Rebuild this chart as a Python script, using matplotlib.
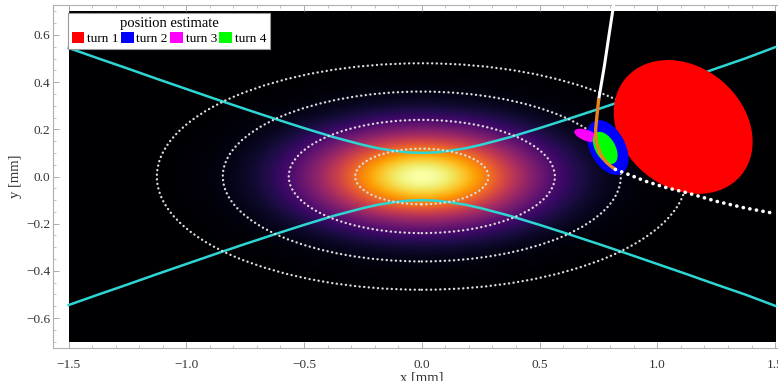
import numpy as np
import matplotlib.pyplot as plt
from matplotlib.patches import Ellipse, Patch
from matplotlib.ticker import MultipleLocator

plt.rcParams['font.family'] = ['Liberation Serif', 'DejaVu Serif']

# beam spot, 1-sigma widths in mm
sigma_x = 0.283
sigma_y = 0.12

# dotted sigma contours (semi-axes in mm)
contour_rx = [0.283, 0.565, 0.845, 1.125]
contour_ry = [0.118, 0.24, 0.36, 0.48]

# envelope (upper branch), the lower branch is its mirror
env_x = [-1.5, -1.375, -1.25, -1.125, -1.0, -0.875, -0.75, -0.625, -0.5, -0.375, -0.25, -0.1875,
         -0.125, -0.0625, 0.0, 0.0625, 0.125, 0.1875, 0.25, 0.375, 0.5, 0.625, 0.75, 0.875, 1.0,
         1.125, 1.25, 1.375, 1.5]
env_y = [0.545, 0.501, 0.458, 0.414, 0.371, 0.328, 0.286, 0.245, 0.205, 0.167, 0.134, 0.120,
         0.110, 0.1025, 0.100, 0.1025, 0.110, 0.120, 0.134, 0.167, 0.205, 0.245, 0.286, 0.328, 0.371,
         0.414, 0.458, 0.501, 0.548]

# position estimates per turn
turn_labels = ['turn 1', 'turn 2', 'turn 3', 'turn 4']
turn_colors = ['#ff0000', '#0000ff', '#ff00ff', '#00ff00']
turn_cx = [1.11, 0.789, 0.70, 0.779]
turn_cy = [0.21, 0.123, 0.174, 0.121]
turn_w = [0.64, 0.25, 0.11, 0.15]
turn_h = [0.51, 0.15, 0.046, 0.085]
turn_angle = [-40, -62, -20, -60]

# probe track: incoming (white), correction (orange), extrapolation (dots)
track_in_x = [0.818, 0.795, 0.775, 0.751]
track_in_y = [0.75, 0.60, 0.467, 0.326]
track_mid_x = [0.751, 0.744, 0.738, 0.741, 0.751, 0.765, 0.785, 0.805, 0.822]
track_mid_y = [0.326, 0.26, 0.199, 0.15, 0.114, 0.083, 0.059, 0.042, 0.03]
track_out_x = [0.822, 0.90, 0.95, 1.03, 1.13, 1.25, 1.37, 1.49]
track_out_y = [0.03, 0.0, -0.02, -0.045, -0.07, -0.105, -0.133, -0.155]

fig = plt.figure(figsize=(7.78, 3.81), dpi=100)
ax = fig.add_axes([53 / 778, 33 / 381, 737.6 / 778, 343 / 381])

# gaussian beam density
gx = np.linspace(-1.5, 1.5, 900)
gy = np.linspace(-0.7, 0.7, 420)
X, Y = np.meshgrid(gx, gy)
Z = np.exp(-0.5 * ((X / sigma_x) ** 2 + (Y / sigma_y) ** 2)) ** 0.75
ax.imshow(Z, extent=[-1.5, 1.5, -0.7, 0.7], origin='lower', cmap='inferno',
          interpolation='bilinear', aspect='auto', zorder=0)

for rx, ry in zip(contour_rx, contour_ry):
    e = Ellipse((0, 0), 2 * rx, 2 * ry, fill=False, edgecolor='#dddddd', lw=1.7,
                linestyle=(0, (0.05, 1.9)), capstyle='round', zorder=2)
    ax.add_patch(e)

env_y = np.array(env_y)
ax.plot(env_x, env_y, color='#2ed6d3', lw=1.8, zorder=1.5)
ax.plot(env_x, -env_y, color='#2ed6d3', lw=1.8, zorder=1.5)

for i in range(len(turn_labels)):
    e = Ellipse((turn_cx[i], turn_cy[i]), turn_w[i], turn_h[i], angle=turn_angle[i],
                facecolor=turn_colors[i], edgecolor='none', zorder=3 + 0.1 * i)
    ax.add_patch(e)

ax.plot(track_in_x, track_in_y, color='white', lw=2.2, zorder=5, clip_on=False)
ax.plot(track_mid_x, track_mid_y, color='#e8851c', lw=2.4, zorder=5, solid_capstyle='round')
ax.plot(track_out_x, track_out_y, color='white', lw=2.6, zorder=5,
        linestyle=(0, (0.05, 1.8)), dash_capstyle='round')

ax.set_xlim(-1.566, 1.566)
ax.set_ylim(-0.727, 0.727)

ax.xaxis.set_major_locator(MultipleLocator(0.5))
ax.xaxis.set_minor_locator(MultipleLocator(0.1))
ax.yaxis.set_major_locator(MultipleLocator(0.2))
ax.yaxis.set_minor_locator(MultipleLocator(0.05))
ax.xaxis.set_major_formatter(plt.FuncFormatter(lambda v, p: f'{v:.1f}'.replace('-', '\u2212')))
ax.yaxis.set_major_formatter(plt.FuncFormatter(lambda v, p: f'{v:.1f}'.replace('-', '\u2212')))
ax.tick_params(which='both', direction='in', top=True, right=True, color='#aaaaaa',
               labelcolor='#333333', labelsize=9.5)
ax.tick_params(which='major', length=4, width=0.7)
ax.tick_params(which='minor', length=2, width=0.5)
ax.tick_params(axis='x', pad=8)
ax.tick_params(axis='y', pad=2)
for s in ax.spines.values():
    s.set_color('#b0b0b0')
    s.set_linewidth(0.8)

ax.set_xlabel('x [mm]', fontsize=10.5, color='#333333', labelpad=0)
ax.set_ylabel('y [mm]', fontsize=10.5, color='#333333', labelpad=3)

handles = [Patch(facecolor=c, edgecolor='none') for c in turn_colors]
leg = ax.legend(handles, turn_labels, title='position estimate', ncol=4,
                loc='upper left', bbox_to_anchor=(0.0203, 0.977), borderaxespad=0,
                fontsize=9.5, title_fontsize=10.5, frameon=True, fancybox=False,
                handlelength=0.95, handleheight=0.95, handletextpad=0.2,
                columnspacing=0.2, borderpad=0.3, labelspacing=0.15, framealpha=1)
leg.get_frame().set_edgecolor('#999999')
leg.get_frame().set_linewidth(0.8)
leg.set_zorder(10)

fig.savefig('out.png', dpi=100)
